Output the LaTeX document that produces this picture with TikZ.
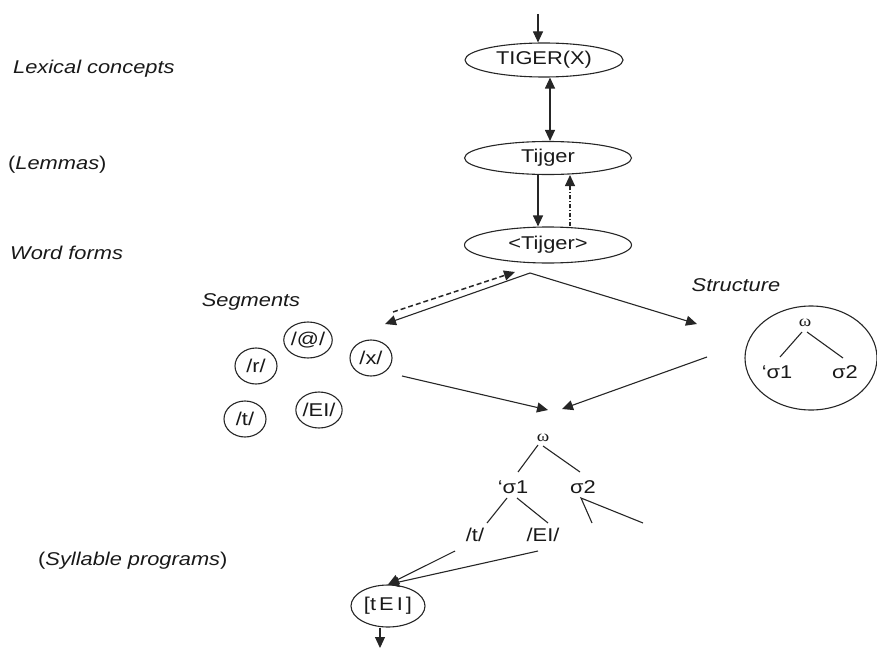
\documentclass[tikz,border=0pt]{standalone}
\usepackage{fontspec}
\setmainfont[FakeStretch=1.18]{Liberation Sans}
\newfontfamily\grk[FakeStretch=1.18]{Liberation Serif}
\usetikzlibrary{arrows.meta,shapes.geometric}
\begin{document}
\begin{tikzpicture}[x=1pt,y=-1pt,
  every node/.style={font=\fontsize{18.5}{21}\selectfont, text=black!90, inner sep=0pt},
  lbl/.style={anchor=west},
  oval/.style={draw=black!85, line width=1.1pt, ellipse, inner sep=0pt},
  seg/.style={oval, minimum width=42pt, minimum height=36pt},
  omeganode/.style={font=\fontsize{16}{18}\selectfont\grk},
  con/.style={draw=black!85, line width=1.1pt},
  arr/.style={con, -{Triangle[length=11pt,width=10pt]}},
  dbl/.style={con, {Triangle[length=11pt,width=10pt]}-{Triangle[length=11pt,width=10pt]}},
  dashdot/.style={arr, dash pattern=on 4pt off 2pt on 1pt off 2pt},
  dashline/.style={arr, line width=1.5pt, dash pattern=on 5pt off 3pt}
]
\useasboundingbox (0,0) rectangle (877,650);

% level labels
\node[lbl] (l1) at (13,69) {\itshape Lexical concepts};
\node[lbl] (l2) at (8,165) {(\textit{Lemmas})};
\node[lbl] (l3) at (10,253) {\itshape Word forms};
\node[lbl] (l4) at (38,561) {(\textit{Syllable programs})};

% main ovals
\node[oval, minimum width=158pt, minimum height=34pt] (tiger) at (544,60) {TIGER(X)};
\node[oval, minimum width=167pt, minimum height=33pt] (lemma) at (548,158) {Tijger};
\node[oval, minimum width=167pt, minimum height=36pt] (wform) at (548,245) {<Tijger>};

\coordinate (topin) at (538,14);
\draw[arr] (topin) -- (topin |- tiger.north);
\draw[dbl] ([xshift=6pt]tiger.south) -- ([xshift=2pt]lemma.north);
\draw[arr] ([xshift=-10pt]lemma.south) -- ([xshift=-10pt]wform.north);
\draw[dashdot] ([xshift=22pt]wform.north) -- ([xshift=22pt]lemma.south);

% branching
\coordinate (apex) at (530,273);
\coordinate (segin) at (385,324);
\coordinate (strin) at (697,324);
\draw[arr] (apex) -- (segin);
\draw[arr] (apex) -- (strin);
\coordinate (dstart) at (393,312);
\coordinate (dend) at (515,272);
\draw[dashline] (dstart) -- (dend);

% segments
\node (seglbl) at (251,302) {\itshape Segments};
\node[seg] (sa) at (308,340) {/@/};
\node[seg] (sx) at (371,358) {/x/};
\node[seg] (sr) at (256,366) {/r/};
\node[seg] (st) at (245,419) {/t/};
\node[seg] (se) at (319,410) {/EI/};

% structure
\node (strlbl) at (736,285) {\itshape Structure};
\node[oval, minimum width=132pt, minimum height=104pt] (strc) at (811,358) {};
\node[omeganode] (somega) at (805,323) {ω};
\node (ss1) at (777,372) {‘σ1};
\node (ss2) at (845,372) {σ2};
\draw[con] ([shift={(-3,9)}]somega.center) -- ([shift={(3,-15)}]ss1.center);
\draw[con] ([shift={(2,9)}]somega.center) -- ([shift={(-2,-14)}]ss2.center);

% merge arrows
\coordinate (mergeL) at (548,410);
\coordinate (mergeR) at (562,409);
\coordinate (strout) at (707,357);
\draw[arr] ([shift={(31,18)}]sx.center) -- (mergeL);
\draw[arr] (strout) -- (mergeR);

% syllabified tree
\node[omeganode] (tomega) at (543,438) {ω};
\node (ts1) at (513,487) {‘σ1};
\node (ts2) at (583,487) {σ2};
\node (tt) at (475,535) {/t/};
\node (tei) at (543,535) {/EI/};
\coordinate (c1) at (592,523);
\coordinate (c2) at (643,523);
\draw[con] ([shift={(-5,7)}]tomega.center) -- ([shift={(5,-15)}]ts1.center);
\draw[con] ([shift={(0,8)}]tomega.center) -- ([shift={(-3,-15)}]ts2.center);
\draw[con] ([shift={(-6,11)}]ts1.center) -- ([shift={(12,-12)}]tt.center);
\draw[con] ([shift={(4,11)}]ts1.center) -- ([shift={(5,-12)}]tei.center);
\draw[con] (c1) -- ([shift={(-2,11)}]ts2.center) -- (c2);

% syllable program
\node[oval, minimum width=74pt, minimum height=42pt] (tei2) at (388,606) {[t\,E\,I\,]};
\draw[arr] ([shift={(-20,16)}]tt.center) -- (tei2.north);
\draw[arr] ([shift={(-5,16)}]tei.center) -- (tei2.north);
\coordinate (out) at (380,648);
\draw[arr] (out |- tei2.south) -- (out);
\end{tikzpicture}
\end{document}
